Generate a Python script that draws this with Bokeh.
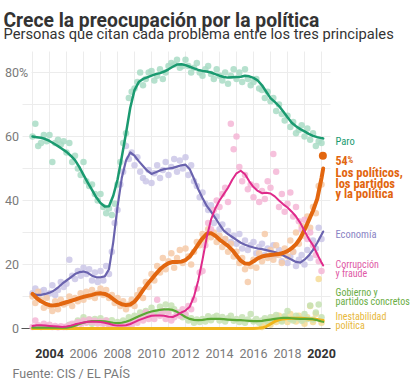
from bokeh.plotting import figure
from bokeh.models import Range1d, Label
from bokeh.embed import file_html
from bokeh.resources import INLINE

# ---------------- data ----------------
TITLE = "Crece la preocupación por la política"
SUBTITLE = "Personas que citan cada problema entre los tres principales"
SOURCE = "Fuente: CIS / EL PAÍS"

X_TICKS = [2004, 2006, 2008, 2010, 2012, 2014, 2016, 2018, 2020]
X_TICK_LABELS = ["2004", "2006", "2008", "2010", "2012", "2014", "2016", "2018", "2020"]
Y_TICKS = [0, 20, 40, 60, 80]
Y_TICK_LABELS = ["0", "20", "40", "60", "80"]
GRID_YEARS = [2003, 2004, 2005, 2006, 2007, 2008, 2009, 2010, 2011, 2012, 2013,
              2014, 2015, 2016, 2017, 2018, 2019, 2020]
GRID_VALUES = [10, 20, 30, 40, 50, 60, 70, 80]

# smoothed trend lines (quarterly, 2003.0 ... 2020.0, then last survey)
LINE_YEARS = [2003 + 0.25 * i for i in range(69)] + [2020.1]

PARO_LINE = [
    60.0, 59.8, 59.6, 59.2, 58.6, 57.8, 57.0, 56.1, 55.2, 54.0, 52.6, 50.5,
    48.0, 45.6, 43.3, 41.0, 39.2, 38.1, 38.2, 41.5, 46.5, 53.5, 61.0, 69.0,
    74.5, 77.0, 78.0, 78.5, 79.0, 79.5, 79.8, 80.3, 81.0, 81.8, 82.5, 82.6,
    82.3, 81.8, 81.3, 80.8, 80.5, 80.3, 80.0, 79.5, 79.0, 78.6, 78.4, 78.5,
    78.6, 78.7, 79.0, 78.8, 78.3, 77.5, 76.0, 74.0, 72.0, 70.8, 69.5, 67.8,
    66.0, 64.3, 63.2, 62.3, 61.6, 60.8, 60.2, 59.8, 59.5, 59.4]
ECON_LINE = [
    10.8, 10.5, 10.5, 10.8, 11.2, 11.8, 12.8, 14.0, 15.0, 16.0, 17.0, 17.6,
    17.8, 17.4, 16.5, 16.0, 16.0, 16.3, 18.5, 27.0, 38.0, 47.0, 52.5, 55.0,
    54.0, 52.3, 50.8, 49.3, 48.3, 48.8, 49.4, 49.8, 50.0, 50.2, 50.6, 51.0,
    51.2, 49.8, 46.8, 43.5, 40.8, 38.3, 36.5, 34.6, 32.5, 30.6, 29.5, 28.6,
    27.7, 26.8, 26.2, 25.7, 25.3, 25.0, 24.8, 24.5, 24.2, 23.9, 23.4, 22.8,
    22.2, 21.5, 20.8, 20.6, 21.5, 22.8, 24.6, 26.8, 29.3, 30.3]
POL_LINE = [
    10.8, 9.5, 8.5, 7.8, 7.3, 7.2, 7.4, 7.8, 8.2, 8.6, 9.0, 9.5,
    9.9, 10.2, 10.5, 10.9, 11.0, 10.8, 10.2, 9.2, 8.2, 7.6, 7.3, 7.5,
    8.4, 10.0, 12.0, 13.8, 15.4, 17.0, 18.5, 19.6, 20.4, 20.8, 20.8, 20.9,
    21.4, 22.5, 24.3, 26.3, 28.2, 29.6, 29.8, 29.0, 27.8, 26.8, 25.8, 24.5,
    22.8, 21.2, 20.3, 20.2, 21.0, 21.9, 22.5, 22.8, 23.0, 23.1, 23.3, 23.6,
    24.2, 25.1, 26.3, 28.2, 30.8, 33.8, 36.8, 40.5, 47.0, 50.0]
CORR_LINE = [
    0.8, 1.0, 1.0, 0.9, 0.8, 0.7, 0.6, 0.5, 0.6, 0.9, 1.3, 1.6,
    1.9, 2.1, 2.2, 2.1, 2.0, 1.8, 1.5, 1.1, 0.9, 0.9, 1.0, 1.4,
    2.0, 2.6, 3.1, 3.6, 4.0, 4.1, 4.1, 4.0, 3.7, 3.6, 4.2, 5.0,
    5.6, 6.8, 10.0, 15.0, 21.5, 28.5, 34.0, 37.5, 40.0, 42.0, 44.0, 46.5,
    48.5, 49.3, 48.2, 46.0, 44.2, 43.0, 42.3, 42.4, 42.2, 41.3, 40.0, 38.8,
    37.8, 36.5, 35.0, 33.0, 30.5, 28.0, 26.0, 23.2, 20.6, 19.7]
GOB_LINE = [
    0.3, 0.3, 0.3, 0.3, 0.3, 0.3, 0.3, 0.3, 0.3, 0.5, 0.9, 1.4,
    1.8, 2.1, 2.3, 2.3, 2.3, 2.2, 2.0, 1.8, 1.7, 1.8, 2.1, 2.6,
    3.2, 3.8, 4.4, 4.9, 5.3, 5.6, 5.8, 6.0, 6.0, 5.8, 5.2, 4.4,
    3.6, 3.0, 2.7, 2.6, 2.7, 2.9, 3.0, 3.0, 3.0, 2.9, 2.8, 2.7,
    2.6, 2.6, 2.5, 2.4, 2.3, 2.3, 2.4, 2.6, 2.8, 3.0, 3.2, 3.3,
    3.3, 3.2, 3.1, 3.0, 3.0, 3.0, 2.9, 2.6, 2.2, 2.1]
INEST_LINE = [
    0, 0, 0, 0, 0, 0, 0, 0, 0, 0, 0, 0,
    0, 0, 0, 0, 0, 0, 0, 0, 0, 0, 0, 0,
    0, 0, 0, 0, 0, 0, 0, 0, 0, 0, 0, 0,
    0, 0, 0, 0, 0, 0, 0, 0, 0, 0, 0, 0,
    0, 0, 0, 0, 0, 0.1, 0.2, 0.6, 1.4, 2.2, 2.7, 3.0,
    3.1, 3.2, 3.2, 3.2, 3.1, 3.0, 3.0, 2.8, 2.6, 2.5]

# individual barometers (every two months)
PARO_START = 2003.0
PARO_PTS = [
    60, 64, 57, 58, 60.5, 58.5, 60.5, 52, 58, 59, 57.5, 58.5,
    55, 58, 52, 54, 50, 48, 52, 46, 44.5, 45, 42, 40,
    42, 38, 36, 37.5, 35.5, 39, 45, 52, 58, 61, 72, 74,
    75, 77, 80, 76, 78, 80, 80.5, 77.5, 79, 81, 78, 80,
    82, 83, 82.5, 84, 81.5, 82, 84, 82, 80, 81.5, 83, 80,
    79, 81, 82, 79.5, 78, 81, 79, 77.5, 80, 76.5, 79, 81,
    78, 80, 77, 81, 78, 76, 77, 78, 75, 74.5, 72, 74,
    71, 72, 68, 70, 67, 65, 66.5, 63, 64.5, 61, 62, 63.5,
    60, 62.5, 59, 61, 57, 58.5, 58]
ECON_START = 2003.0
ECON_PTS = [
    11, 12.5, 9.5, 11.5, 12, 10, 11, 13.5, 10.5, 12, 14.5, 13,
    14, 21.5, 16.5, 15.5, 18, 16.5, 19, 17, 18.5, 15, 17.5, 14.5,
    18, 15, 19.5, 17, 24, 33, 37, 45, 49, 57, 53, 55,
    51, 53.5, 49, 47, 46, 49.5, 45.5, 48.5, 51, 47, 49.5, 52,
    48, 50.5, 53, 49, 52.5, 50, 53.5, 48, 51, 46, 44.5, 41,
    42.5, 39, 37, 38.5, 33, 35, 31, 32.5, 28, 30.5, 27, 29,
    26.5, 29.5, 25, 27.5, 24.5, 26, 27, 23.5, 25.5, 26.5, 23, 25,
    22.5, 26, 23, 24.5, 21, 23.5, 20.5, 22.5, 24, 19.5, 21.5, 23,
    20, 24.5, 22, 27.5, 25, 31.5, 28]
POL_START = 2003.0
POL_PTS = [
    10, 8, 11.5, 9, 6.5, 9.5, 7, 5.5, 8.5, 6, 9, 7.5,
    8, 10, 7, 9.5, 8.5, 11, 9, 11.5, 10, 12, 9.5, 11,
    12.5, 10.5, 12, 9.5, 10.5, 8, 9.5, 7, 8.5, 6, 7.5, 9,
    7, 10.5, 12, 9.5, 14.5, 13, 17, 15, 19.5, 17.5, 22, 18.5,
    21, 23.5, 19, 22, 24.5, 20.5, 25, 22.5, 20, 24, 27, 26,
    29.5, 27.5, 31, 28.5, 30, 27, 29, 25.5, 28, 24, 26.5, 22.5,
    24, 20.5, 22, 18.5, 14.5, 19.5, 21.5, 19, 23.5, 21, 29.5, 22,
    24.5, 21.5, 26, 23, 20.5, 25, 22.5, 27.5, 24, 30, 26.5, 32,
    29, 35, 31.5, 38, 36, 44.5, 45]
CORR_START = 2003.0
CORR_PTS = [
    0.5, 2.5, 1, 0.5, 1.5, 0.8, 1.2, 0.5, 0.8, 0.4, 0.7, 0.5,
    0.6, 1, 1.5, 1.2, 2, 1.5, 2.5, 1.8, 2.8, 2, 2.4, 1.6,
    2.2, 1.5, 2.5, 1.2, 1, 0.8, 1, 0.6, 1.2, 0.8, 1.5, 1.2,
    2.5, 1.8, 3.5, 2.5, 5, 3, 4.5, 3, 9, 4, 5.5, 3,
    4.5, 2.5, 3.5, 5, 4, 6, 4.5, 7, 6, 9, 12.5, 17.5,
    18, 26, 33, 31, 37, 40, 38, 42, 44, 39.5, 64, 56,
    60, 50.5, 46, 48, 43.5, 45, 41, 44.5, 39.5, 43, 40.5, 46,
    44, 54.5, 49, 38, 42, 36.5, 39, 42.5, 35, 38, 33.5, 31,
    34, 28, 30, 26, 23, 21, 18]
GOB_START = 2005.0
GOB_PTS = [
    0.5, 1.2, 0.8, 1.5, 2.5, 1.8, 3.5, 2, 2.8, 1.5, 3, 2.2,
    3.2, 1.8, 2.5, 1.4, 2.6, 1.2, 2, 1.5, 2.5, 1.8, 3.5, 2.2,
    4, 3, 5, 3.8, 5.5, 4.2, 6.5, 5, 4.5, 6.8, 5.2, 7.5,
    5.5, 7.2, 6, 4.5, 5, 3.5, 4.2, 2.5, 3.2, 1.8, 2.8, 2,
    3, 2.2, 3.8, 2.6, 3.5, 4, 2.5, 3.6, 2.2, 3.2, 4, 2.4,
    3, 2, 3.5, 1.8, 2.8, 4.5, 2.2, 3, 1.8, 2.5, 3.2, 2,
    3.5, 2.5, 4.2, 3, 2.2, 3.8, 5.5, 3, 2.5, 4, 3.2, 2.4,
    4.5, 3, 7.2, 2.8, 5, 7.5, 3.5]
INEST_START = 2016.5
INEST_PTS = [0.5, 1.5, 2.5, 1.2, 3.5, 2, 4, 2.5, 3.5, 2, 4.5, 3,
             2.2, 4, 3, 1.5, 3.5, 7, 2, 4.5, 15.5, 1.8]

LAST_YEAR = 2020.08
LAST_POL = 54

SERIES = [
    # name, line, pts start, pts, line color, point color, width
    ("Inestabilidad", INEST_LINE, INEST_START, INEST_PTS, "#f2b51a", "#f6dc96", 3.0),
    ("Gobierno", GOB_LINE, GOB_START, GOB_PTS, "#5aa935", "#c6e2b3", 2.2),
    ("Economía", ECON_LINE, ECON_START, ECON_PTS, "#6a63ae", "#cbc7e7", 2.2),
    ("Paro", PARO_LINE, PARO_START, PARO_PTS, "#1a9a70", "#a9dcc6", 2.5),
    ("Políticos", POL_LINE, POL_START, POL_PTS, "#e2660f", "#f6caa8", 4.0),
    ("Corrupción", CORR_LINE, CORR_START, CORR_PTS, "#df2a8b", "#f4b6d6", 2.0),
]

# -------------- layout helpers (screen pixel -> data) --------------
def X(sx):
    return 2004 + (sx - 49) / 17.0


def Y(sy):
    return (328 - sy) / 3.2


W, H = 414, 383
p = figure(width=W, height=H, x_range=Range1d(X(0), X(W)), y_range=Range1d(Y(H), Y(0)),
           toolbar_location=None, output_backend="svg", min_border=0,
           x_axis_location=None, y_axis_location=None)
p.grid.visible = False
p.outline_line_color = None
p.background_fill_color = "white"
p.border_fill_color = "white"

FONT = "Roboto"
COND = "Roboto Condensed"
GREY = "#7a7a7a"
DARK = "#333333"

# grid
p.segment(x0=GRID_YEARS, x1=GRID_YEARS, y0=[0] * len(GRID_YEARS), y1=[Y(51)] * len(GRID_YEARS),
          line_color="#ececec", line_width=1)
gx0 = [X(31) if v == 80 else X(22) for v in GRID_VALUES]
p.segment(x0=gx0, x1=[X(330)] * len(GRID_VALUES), y0=GRID_VALUES, y1=GRID_VALUES,
          line_color="#ececec", line_width=1)
p.segment(x0=[X(21)], x1=[X(330)], y0=[0], y1=[0], line_color="#555555", line_width=1)

# points
for name, line, start, pts, lc, pc, w in SERIES:
    yrs = [start + k / 6.0 for k in range(len(pts))]
    p.scatter(x=yrs, y=pts, size=6.5, fill_color=pc, line_color=None, fill_alpha=0.85)
# lines
for name, line, start, pts, lc, pc, w in SERIES:
    p.line(x=LINE_YEARS, y=line, line_color=lc, line_width=w, line_cap="round", line_join="round")

p.scatter(x=[LAST_YEAR], y=[LAST_POL], size=8, fill_color="#e2660f", line_color=None)

# y tick labels
for v, t in zip(Y_TICKS, Y_TICK_LABELS):
    p.add_layout(Label(x=X(18.5), y=v, text=t, text_font=FONT, text_font_size="12.5px",
                       text_color=GREY, text_align="right", text_baseline="middle"))
p.add_layout(Label(x=X(18.5), y=80, text="%", text_font=FONT, text_font_size="12.5px",
                   text_color=GREY, text_align="left", text_baseline="middle"))

# x tick labels
for yr, t in zip(X_TICKS, X_TICK_LABELS):
    bold = yr in (2004, 2020)
    p.add_layout(Label(x=yr, y=Y(353), text=t, text_font=FONT, text_font_size="12.5px",
                       text_font_style="bold" if bold else "normal",
                       text_color=DARK if bold else GREY, text_align="center",
                       text_baseline="alphabetic"))

# titles
p.add_layout(Label(x=X(3), y=Y(19.5), text=TITLE, text_font=FONT, text_font_size="19.3px",
                   text_font_style="bold", text_color=DARK, text_baseline="alphabetic"))
p.add_layout(Label(x=X(3), y=Y(33.5), text=SUBTITLE, text_font=FONT, text_font_size="14.7px",
                   text_color=DARK, text_baseline="alphabetic"))
p.add_layout(Label(x=X(12), y=Y(373), text=SOURCE, text_font=FONT, text_font_size="12.5px",
                   text_color=GREY, text_baseline="alphabetic"))

# series labels at right
def lab(txt, sy, color, size="10px", style="normal", sx=335):
    p.add_layout(Label(x=X(sx), y=Y(sy), text=txt, text_font=COND, text_font_size=size,
                       text_font_style=style, text_color=color, text_baseline="alphabetic"))

lab("Paro", 141, "#1a9a70", "10.5px")
lab("54", 159.5, "#e2660f", "12px", "bold")
lab("%", 159.5, "#e2660f", "9px", "bold", sx=347)
lab("Los políticos,", 172, "#e2660f", "12.5px", "bold")
lab("los partidos", 182.5, "#e2660f", "12.5px", "bold")
lab("y la política", 193, "#e2660f", "12.5px", "bold")
lab("Economía", 234, "#8a84c4", "10.5px")
lab("Corrupción", 264, "#e05aa6")
lab("y fraude", 273, "#e05aa6")
lab("Gobierno y", 292, "#6aae45")
lab("partidos concretos", 300.5, "#6aae45")
lab("Inestabilidad", 316, "#e8b83a")
lab("política", 324.5, "#e8b83a")

open("out.html", "w").write(file_html(p, INLINE))
